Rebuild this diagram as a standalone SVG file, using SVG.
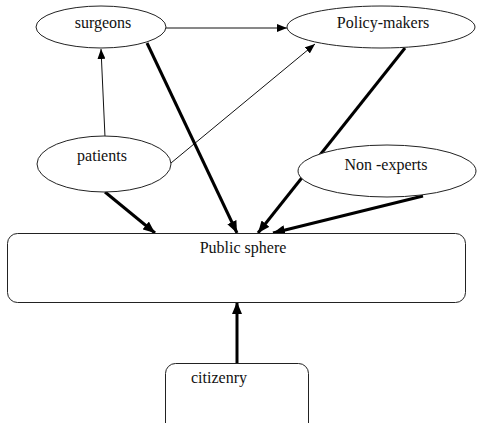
<svg xmlns="http://www.w3.org/2000/svg" width="478" height="423" viewBox="0 0 478 423">
<style>
.n{fill:#fff;stroke:#222;stroke-width:1}
.t{font-family:"Liberation Serif","Times New Roman",serif;font-size:16px;fill:#111}
.thin{stroke:#111;stroke-width:1;fill:none}
.thick{stroke:#000;stroke-width:3;fill:none}
</style>
<defs>
<marker id="a1" markerUnits="userSpaceOnUse" markerWidth="10" markerHeight="8" viewBox="0 0 10 8" refX="10" refY="4" orient="auto"><path d="M0,0 L10,4 L0,8 z" fill="#000"/></marker>
<marker id="a3" markerUnits="userSpaceOnUse" markerWidth="12" markerHeight="10" viewBox="0 0 12 10" refX="12" refY="5" orient="auto"><path d="M0,0 L12,5 L0,10 z" fill="#000"/></marker>
</defs>
<rect width="478" height="423" fill="#fff"/>
<g id="connectors">
<line class="thin" x1="166" y1="28" x2="287" y2="28" marker-end="url(#a1)"/>
<line class="thin" x1="105" y1="137" x2="101" y2="49" marker-end="url(#a1)"/>
<line class="thin" x1="171" y1="163" x2="315" y2="44" marker-end="url(#a1)"/>
<line class="thick" x1="147" y1="43" x2="237" y2="233" marker-end="url(#a3)"/>
<line class="thick" x1="105" y1="192" x2="155" y2="233" marker-end="url(#a3)"/>
<line class="thick" x1="405" y1="48" x2="258" y2="233" marker-end="url(#a3)"/>
<line class="thick" x1="423" y1="196" x2="273" y2="233" marker-end="url(#a3)"/>
<line class="thick" x1="237" y1="363" x2="237" y2="302" marker-end="url(#a3)"/>
</g>
<g id="surgeons"><ellipse class="n" cx="101" cy="27" rx="65" ry="21"/><text class="t" x="103" y="28" text-anchor="middle">surgeons</text></g>
<g id="policy-makers"><ellipse class="n" cx="381" cy="27" rx="94" ry="21"/><text class="t" x="383" y="28" text-anchor="middle">Policy-makers</text></g>
<g id="patients"><ellipse class="n" cx="104" cy="164" rx="67" ry="28"/><text class="t" x="102" y="161" text-anchor="middle">patients</text></g>
<g id="non-experts"><ellipse class="n" cx="387" cy="171" rx="89" ry="26"/><text class="t" x="386" y="170" text-anchor="middle">Non -experts</text></g>
<g id="public-sphere"><rect class="n" x="7.5" y="233.5" width="458" height="69" rx="10"/><text class="t" x="243" y="253" text-anchor="middle">Public sphere</text></g>
<g id="citizenry"><rect class="n" x="165.5" y="363.5" width="143" height="70" rx="10"/><text class="t" x="191" y="383">citizenry</text></g>
</svg>
